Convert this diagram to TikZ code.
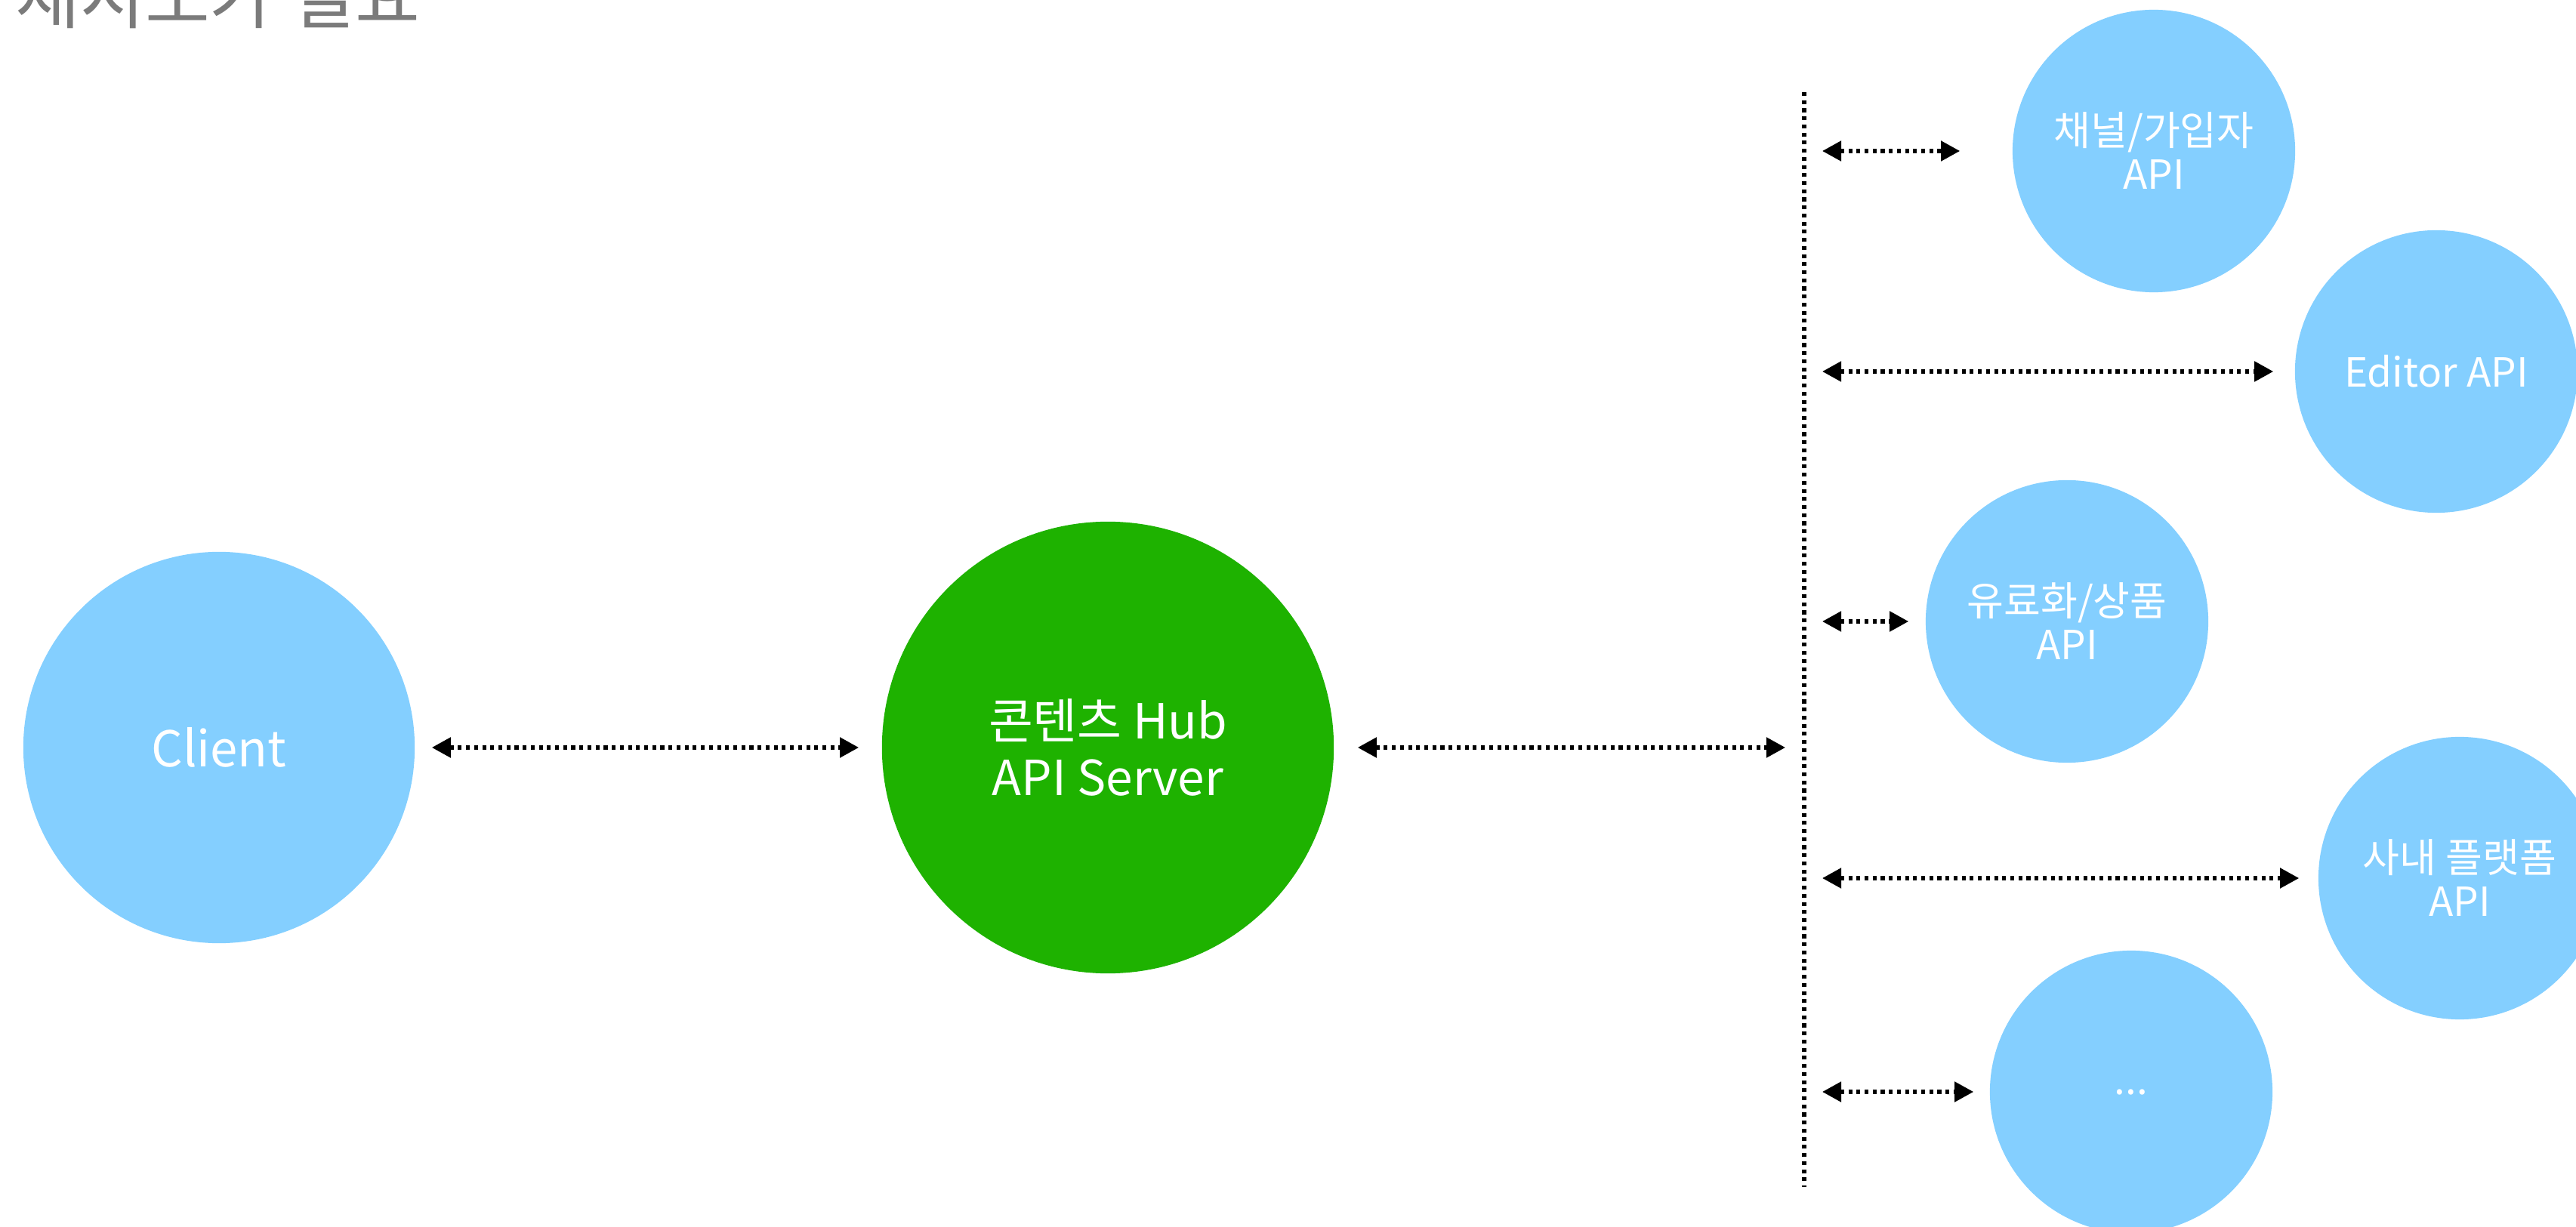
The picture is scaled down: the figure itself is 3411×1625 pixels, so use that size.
\documentclass[tikz,border=0pt]{standalone}
\usepackage{fontspec}
\setmainfont{Noto Sans CJK KR}
\usetikzlibrary{arrows.meta}
\definecolor{skyblue}{HTML}{84CFFF}
\definecolor{hubgreen}{HTML}{1EB200}
\definecolor{titlegray}{HTML}{7B7B7B}

\begin{document}
\begin{tikzpicture}[x=0.01cm,y=-0.01cm,
  svc/.style={circle, fill=skyblue, inner sep=0pt, minimum size=3.74cm,
    text=white, align=center, font=\fontsize{15.1}{16.5}\selectfont},
  hubnode/.style={circle, fill=hubgreen, inner sep=0pt, minimum size=5.98cm,
    text=white, align=center, font=\fontsize{18.2}{21.3}\selectfont},
  tip/.tip={Triangle[length=0.25cm,width=0.26cm]},
  link/.style={line width=1.45pt, dash pattern=on 1.45pt off 1.6pt, tip-tip},
  bus/.style={line width=1.45pt, dash pattern=on 1.45pt off 1.6pt}]
\useasboundingbox (0,0) rectangle (3411,1625);
\clip (0,0) rectangle (3411,1625);

% heading
\node[anchor=base west, inner sep=0pt, text=titlegray,
      font=\fontsize{26.5}{28}\selectfont] (title) at (20,31) {재시도가 필요};

% client and hub
\node[svc, minimum size=5.18cm, font=\fontsize{18.6}{20}\selectfont] (client) at (290,990) {Client};
\node[hubnode] (hub) at (1467,990) {콘텐츠 Hub\\API Server};

% backend services
\node[svc] (chan)   at (2852,200)  {채널/가입자\\API};
\node[svc] (editor) at (3226,492)  {Editor API};
\node[svc] (pay)    at (2737,823)  {유료화/상품\\API};
\node[svc] (plat)   at (3257,1163) {사내 플랫폼\\API};
\node[svc] (etc)    at (2822,1446) {...};

% vertical bus
\coordinate (bustop) at (2389,122);
\coordinate (busbot) at (2389,1572);
\draw[bus] (bustop) -- (busbot);

\coordinate (bhub) at (2389,990);
\coordinate (b1) at (2389,200);
\coordinate (b2) at (2389,492);
\coordinate (b3) at (2389,823);
\coordinate (b4) at (2389,1163);
\coordinate (b5) at (2389,1446);

% connectors
\draw[link, shorten <=0.22cm, shorten >=0.30cm] (client) -- (hub);
\draw[link, shorten <=0.31cm, shorten >=0.25cm] (hub) -- (bhub);
\draw[link, shorten <=0.24cm, shorten >=0.69cm] (b1) -- (chan);
\draw[link, shorten <=0.24cm, shorten >=0.28cm] (b2) -- (editor);
\draw[link, shorten <=0.24cm, shorten >=0.22cm] (b3) -- (pay);
\draw[link, shorten <=0.24cm, shorten >=0.25cm] (b4) -- (plat);
\draw[link, shorten <=0.24cm, shorten >=0.21cm] (b5) -- (etc);
\end{tikzpicture}
\end{document}
